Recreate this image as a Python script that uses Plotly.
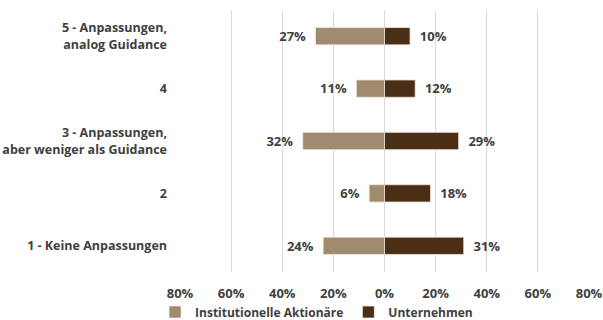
import plotly.graph_objects as go

categories = ["5 - Anpassungen,<br>analog Guidance", "4",
              "3 - Anpassungen,<br>aber weniger als Guidance", "2",
              "1 - Keine Anpassungen"]
investors = [27, 11, 32, 6, 24]
companies = [10, 12, 29, 18, 31]
tick_vals = [-80, -60, -40, -20, 0, 20, 40, 60, 80]
tick_text = ["80%", "60%", "40%", "20%", "0%", "20%", "40%", "60%", "80%"]

font_family = "Open Sans"
txt_color = "#404040"
pad = "\u00a0\u00a0"

fig = go.Figure()
fig.add_trace(go.Bar(
    y=categories, x=[-v for v in investors], orientation="h",
    name="Institutionelle Aktionäre", marker_color="#A08B6E",
    marker_line=dict(color="#EDE8E0", width=0.8),
    text=[f"{v}%{pad}" for v in investors], textposition="outside",
    textfont=dict(family=font_family, size=13.5, color=txt_color, weight="bold"),
    cliponaxis=False,
))
fig.add_trace(go.Bar(
    y=categories, x=companies, orientation="h",
    name="Unternehmen", marker_color="#4A2E16",
    marker_line=dict(color="#EDE8E0", width=0.8),
    text=[f"{pad}{v}%" for v in companies], textposition="outside",
    textfont=dict(family=font_family, size=13.5, color=txt_color, weight="bold"),
    cliponaxis=False,
))

fig.update_layout(
    width=603, height=320,
    margin=dict(l=180, r=14, t=10, b=48, autoexpand=False),
    barmode="relative", bargap=0.67,
    plot_bgcolor="white", paper_bgcolor="white",
    font=dict(family=font_family, size=12, color=txt_color, weight="bold"),
    legend=dict(orientation="h", xref="container", yref="container",
                x=0.525, xanchor="center", y=0.025, yanchor="middle",
                font=dict(size=12, weight="bold"), traceorder="normal",
                itemwidth=30),
    showlegend=True,
)
fig.update_xaxes(range=[-80, 80], tickvals=tick_vals, ticktext=tick_text,
                 showgrid=True, gridcolor="#D9D9D9", gridwidth=1,
                 zeroline=False, showline=False, ticks="", automargin=False,
                 ticklabelstandoff=12, ticklabeloverflow="allow",
                 tickfont=dict(size=13, weight="bold"))
fig.update_yaxes(categoryorder="array", categoryarray=categories[::-1],
                 showgrid=False, zeroline=False, showline=False,
                 ticks="", ticklabelstandoff=12, automargin=False,
                 tickfont=dict(size=12.5, weight="bold"))

fig.write_html("out.html")
